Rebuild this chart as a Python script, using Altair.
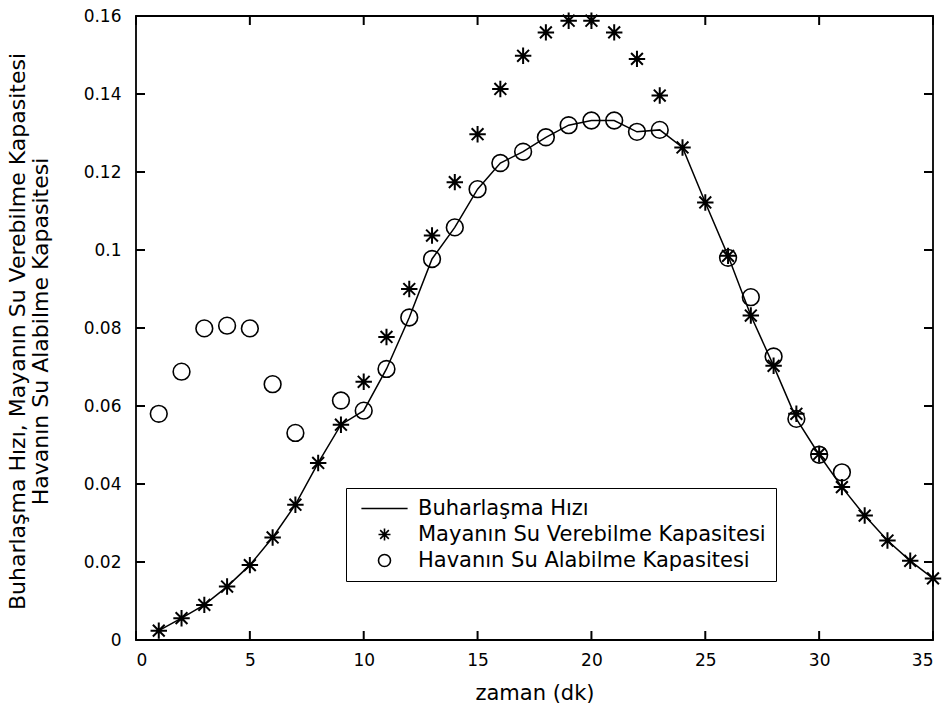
import altair as alt
import pandas as pd

# ---- data ----
x_all = list(range(1, 36))
maya = [0.0024, 0.0056, 0.0090, 0.0137, 0.0192, 0.0263, 0.0347, 0.0454, 0.0552, 0.0662,
        0.0777, 0.0900, 0.1037, 0.1174, 0.1297, 0.1413, 0.1498, 0.1558, 0.1588, 0.1588,
        0.1558, 0.1490, 0.1396, 0.1263, 0.1122, 0.0985, 0.0832, 0.0703, 0.0580, 0.0477,
        0.0392, 0.0319, 0.0255, 0.0203, 0.0158]
buhar = [0.0024, 0.0056, 0.0090, 0.0137, 0.0192, 0.0263, 0.0347, 0.0454, 0.0552, 0.0588,
         0.0695, 0.0827, 0.0977, 0.1058, 0.1156, 0.1223, 0.1252, 0.1289, 0.1320, 0.1332,
         0.1332, 0.1303, 0.1308, 0.1263, 0.1122, 0.0985, 0.0832, 0.0703, 0.0567, 0.0475,
         0.0392, 0.0319, 0.0255, 0.0203, 0.0158]
hava_x = [1, 2, 3, 4, 5, 6, 7, 9, 10, 11, 12, 13, 14, 15, 16, 17, 18, 19, 20, 21, 22, 23,
          26, 27, 28, 29, 30, 31]
hava = [0.0580, 0.0688, 0.0799, 0.0806, 0.0799, 0.0656, 0.0531, 0.0614, 0.0588, 0.0695,
        0.0827, 0.0977, 0.1058, 0.1156, 0.1223, 0.1252, 0.1289, 0.1320, 0.1332, 0.1332,
        0.1303, 0.1308, 0.0980, 0.0879, 0.0727, 0.0567, 0.0475, 0.0430]

series_names = ["Buharlaşma Hızı", "Mayanın Su Verebilme Kapasitesi", "Havanın Su Alabilme Kapasitesi"]
x_ticks = [0, 5, 10, 15, 20, 25, 30, 35]
y_ticks = [0, 0.02, 0.04, 0.06, 0.08, 0.10, 0.12, 0.14, 0.16]
x_title = "zaman (dk)"
y_title = ["Buharlaşma Hızı, Mayanın Su Verebilme Kapasitesi",
           "\u00a0" * 13 + "Havanın Su Alabilme Kapasitesi"]

line_df = pd.DataFrame({"x": x_all, "y": buhar, "s": series_names[0]})
star_df = pd.DataFrame({"x": x_all, "y": maya, "s": series_names[1]})
circ_df = pd.DataFrame({"x": hava_x, "y": hava, "s": series_names[2]})
xt_df = pd.DataFrame({"v": x_ticks})
yt_df = pd.DataFrame({"v": y_ticks})

FONT = "DejaVu Sans"
STAR = "M-1,0H1M0,-1V1M-0.72,-0.72L0.72,0.72M-0.72,0.72L0.72,-0.72"
LINE = "M-3.85,0H3.85"
W, H, TICK = 797, 624, 9

xs = alt.Scale(domain=[0, 35], nice=False, zero=False)
ys = alt.Scale(domain=[0, 0.16], nice=False)

x_bottom = alt.Axis(orient="bottom", values=x_ticks, tickSize=8, tickOpacity=0, domain=False,
                    grid=False, labelPadding=4, labelFont=FONT, labelFontSize=17,
                    labelColor="black", zindex=1,
                    title=x_title, titleFont=FONT, titleFontSize=21, titleFontWeight="normal",
                    titleColor="black", titleBaseline="middle", titleY=53)
y_left = alt.Axis(orient="left", values=y_ticks, format="~g", tickSize=8, tickOpacity=0,
                  domain=False, grid=False, labelPadding=7, labelFont=FONT, labelFontSize=17,
                  labelColor="black", zindex=1,
                  title=y_title, titleFont=FONT, titleFontSize=22, titleFontWeight="normal",
                  titleColor="black", titleLineHeight=23, titleBaseline="top",
                  titleX=-129, titleY=315, titleAngle=270)

shape_scale = alt.Scale(domain=series_names, range=[LINE, STAR, "circle"])
legend = alt.Legend(title=None, orient="none", legendX=210, legendY=472,
                    fillColor="white", strokeColor="black", padding=10,
                    labelFont=FONT, labelFontSize=21, labelColor="black", labelLimit=0,
                    symbolSize=144, symbolStrokeWidth=1.6, symbolStrokeColor="black",
                    symbolFillColor="transparent", symbolOffset=18, labelOffset=23,
                    rowPadding=4, cornerRadius=0)

line = alt.Chart(line_df).mark_line(color="black", strokeWidth=1.5).encode(
    x=alt.X("x:Q", scale=xs, axis=x_bottom),
    y=alt.Y("y:Q", scale=ys, axis=y_left),
)
stars = alt.Chart(star_df).mark_point(filled=False, size=270, color="black",
                                      strokeWidth=2, opacity=1).encode(
    x=alt.X("x:Q", axis=None), y=alt.Y("y:Q", axis=None),
    shape=alt.Shape("s:N", scale=shape_scale, legend=legend),
)
circles = alt.Chart(circ_df).mark_point(filled=False, size=280, color="black",
                                        strokeWidth=1.6, opacity=1).encode(
    x=alt.X("x:Q", axis=None), y=alt.Y("y:Q", axis=None),
    shape=alt.Shape("s:N", scale=shape_scale, legend=legend),
)

# inward tick marks on all four sides (positions from the axis tick values)
tick_style = dict(color="black", strokeWidth=2, opacity=1)
ticks_top = alt.Chart(xt_df).mark_rule(**tick_style).encode(
    x=alt.X("v:Q", scale=xs, axis=None), y=alt.value(0), y2=alt.value(TICK))
ticks_bottom = alt.Chart(xt_df).mark_rule(**tick_style).encode(
    x=alt.X("v:Q", scale=xs, axis=None), y=alt.value(H - TICK), y2=alt.value(H))
ticks_left = alt.Chart(yt_df).mark_rule(**tick_style).encode(
    y=alt.Y("v:Q", scale=ys, axis=None), x=alt.value(0), x2=alt.value(TICK))
ticks_right = alt.Chart(yt_df).mark_rule(**tick_style).encode(
    y=alt.Y("v:Q", scale=ys, axis=None), x=alt.value(W - TICK), x2=alt.value(W))

chart = alt.layer(line, ticks_top, ticks_bottom, ticks_left, ticks_right,
                  stars, circles).resolve_axis(
    x="independent", y="independent"
).properties(
    width=W, height=H,
    autosize=alt.AutoSizeParams(type="none"),
    padding={"left": 136, "top": 16, "right": 14, "bottom": 73},
    background="white",
).configure_view(stroke="black", strokeWidth=1.8)

chart.save("out.html", embed_options={"renderer": "svg", "actions": False})
